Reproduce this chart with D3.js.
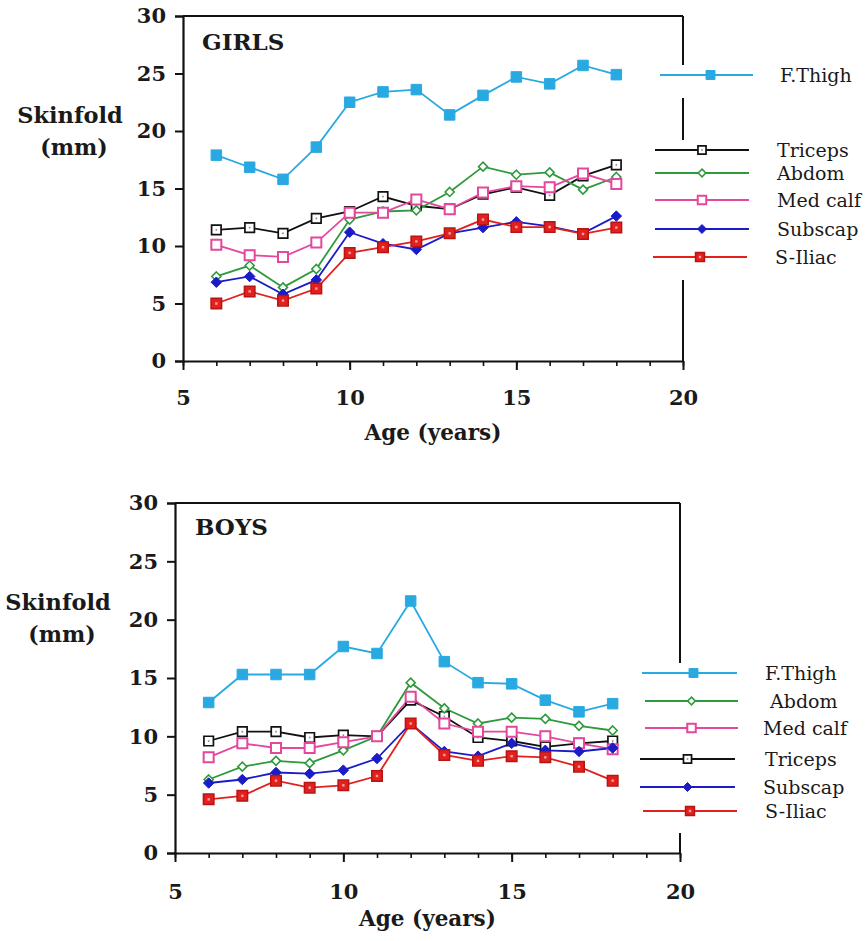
<!DOCTYPE html>
<html>
<head>
<meta charset="utf-8">
<script src="https://cdnjs.cloudflare.com/ajax/libs/d3/7.8.5/d3.min.js"></script>
<style>
  html, body { margin: 0; padding: 0; background: #fff; }
  svg { display: block; }
  text { font-family: "DejaVu Serif", "Liberation Serif", serif; fill: #1a1a1a; }
</style>
</head>
<body>
<svg id="chart" width="867" height="941"></svg>
<script>
// ---------- DATA ----------
const ages = [6, 7, 8, 9, 10, 11, 12, 13, 14, 15, 16, 17, 18];
const xTicks = [5, 10, 15, 20];
const yTicks = [0, 5, 10, 15, 20, 25, 30];

// Girls
const girlsFThigh  = [17.9, 16.85, 15.8, 18.6, 22.5, 23.4, 23.6, 21.4, 23.1, 24.7, 24.1, 25.7, 24.9];
const girlsTriceps = [11.4, 11.6, 11.1, 12.4, 13.0, 14.3, 13.5, 13.2, 14.5, 15.1, 14.4, 16.1, 17.05];
const girlsAbdom   = [7.35, 8.3, 6.4, 8.0, 12.3, 13.0, 13.1, 14.7, 16.9, 16.2, 16.4, 14.9, 16.0];
const girlsMedCalf = [10.1, 9.2, 9.05, 10.3, 12.9, 12.9, 14.05, 13.2, 14.65, 15.2, 15.1, 16.3, 15.4];
const girlsSubscap = [6.85, 7.35, 5.8, 7.05, 11.2, 10.2, 9.7, 11.1, 11.6, 12.1, 11.7, 11.1, 12.6];
const girlsSIliac  = [5.0, 6.05, 5.25, 6.3, 9.4, 9.9, 10.4, 11.1, 12.3, 11.65, 11.65, 11.05, 11.6];

// Boys
const boysFThigh  = [12.9, 15.3, 15.3, 15.3, 17.7, 17.1, 21.6, 16.4, 14.6, 14.5, 13.1, 12.1, 12.8];
const boysTriceps = [9.6, 10.4, 10.4, 9.9, 10.1, 10.0, 13.1, 11.7, 9.9, 9.6, 9.1, 9.4, 9.6];
const boysAbdom   = [6.3, 7.4, 7.9, 7.7, 8.8, 10.0, 14.6, 12.4, 11.1, 11.6, 11.5, 10.9, 10.5];
const boysMedCalf = [8.2, 9.4, 9.0, 9.0, 9.5, 10.0, 13.4, 11.1, 10.4, 10.4, 10.0, 9.4, 8.9];
const boysSubscap = [6.0, 6.3, 6.9, 6.8, 7.1, 8.1, 11.1, 8.7, 8.3, 9.4, 8.8, 8.7, 9.0];
const boysSIliac  = [4.6, 4.9, 6.2, 5.6, 5.8, 6.6, 11.1, 8.4, 7.9, 8.3, 8.2, 7.4, 6.2];

const girlsLegendOrder = ["F.Thigh", "Triceps", "Abdom", "Med calf", "Subscap", "S-Iliac"];
const boysLegendOrder  = ["F.Thigh", "Abdom", "Med calf", "Triceps", "Subscap", "S-Iliac"];

// ---------- STYLES ----------
const styles = {
  "F.Thigh":  { color: "#29a9e1", shape: "square",  fill: "#29a9e1", size: 10.5, stroke: 1 },
  "Triceps":  { color: "#111111", shape: "square",  fill: "#ffffff", size: 9.5, stroke: 1.7 },
  "Abdom":    { color: "#2e9a3c", shape: "diamond", fill: "#ffffff", size: 9,  stroke: 1.6 },
  "Med calf": { color: "#e4479b", shape: "square",  fill: "#ffffff", size: 10, stroke: 2 },
  "Subscap":  { color: "#1b1bc8", shape: "diamond", fill: "#1b1bc8", size: 10.5, stroke: 1 },
  "S-Iliac":  { color: "#e2201e", shape: "square",  fill: "#e2201e", size: 10.5, stroke: 1.5, dark: "#b81414" }
};

const svg = d3.select("#chart");

function markerPath(shape, s) {
  const h = s / 2;
  if (shape === "square") return `M${-h},${-h}H${h}V${h}H${-h}Z`;
  return `M0,${-h}L${h},0L0,${h}L${-h},0Z`;
}

function drawMarker(g, name, x, y, scale) {
  const st = styles[name];
  const s = st.size * (scale || 1);
  g.append("path")
    .attr("transform", `translate(${x},${y})`)
    .attr("d", markerPath(st.shape, s))
    .attr("fill", st.fill)
    .attr("stroke", st.dark || st.color)
    .attr("stroke-width", st.stroke);
  if (name === "S-Iliac") {
    g.append("rect").attr("x", x - 1.2).attr("y", y - 1.2).attr("width", 2.4).attr("height", 2.4)
      .attr("fill", "#f7a0a0");
  }
  if (name === "Triceps") {
    g.append("rect").attr("x", x - 0.8).attr("y", y - 0.8).attr("width", 1.6).attr("height", 1.6)
      .attr("fill", "#888");
  }
}

function drawPanel(cfg) {
  const x = d3.scaleLinear().domain([5, 20]).range([cfg.left, cfg.right]);
  const y = d3.scaleLinear().domain([0, 30]).range([cfg.bottom, cfg.top]);
  const g = svg.append("g");

  // top border
  g.append("line").attr("x1", cfg.left).attr("x2", cfg.right).attr("y1", cfg.top).attr("y2", cfg.top)
    .attr("stroke", "#111").attr("stroke-width", 2);
  // right border segments (gaps for legend)
  cfg.rightSegs.forEach(([a, b]) => {
    g.append("line").attr("x1", cfg.right).attr("x2", cfg.right).attr("y1", a).attr("y2", b)
      .attr("stroke", "#111").attr("stroke-width", 2);
  });

  // y axis
  const yAxis = g.append("g").attr("transform", `translate(${cfg.left},0)`)
    .call(d3.axisLeft(y).tickValues(yTicks).tickSize(8).tickPadding(9).tickFormat(d3.format("d")));
  yAxis.select(".domain").attr("stroke", "#111").attr("stroke-width", 2.2);
  yAxis.selectAll(".tick line").attr("stroke", "#111").attr("stroke-width", 2);
  yAxis.selectAll("text").attr("font-size", 21).attr("font-weight", "bold").attr("fill", "#1a1a1a")
    .attr("font-family", "DejaVu Serif, serif");

  // x axis minor ticks
  const xMinor = g.append("g").attr("transform", `translate(0,${cfg.bottom})`)
    .call(d3.axisBottom(x).tickValues(d3.range(5, 21)).tickSize(5).tickFormat(""));
  xMinor.select(".domain").remove();
  xMinor.selectAll(".tick line").attr("stroke", "#111").attr("stroke-width", 1.6);

  // x axis major
  const xAxis = g.append("g").attr("transform", `translate(0,${cfg.bottom})`)
    .call(d3.axisBottom(x).tickValues(xTicks).tickSize(9).tickSizeOuter(0).tickPadding(cfg.xPad).tickFormat(d3.format("d")));
  xAxis.select(".domain").attr("stroke", "#111").attr("stroke-width", 2.2);
  xAxis.selectAll(".tick line").attr("stroke", "#111").attr("stroke-width", 2);
  xAxis.selectAll("text").attr("font-size", 21).attr("font-weight", "bold").attr("fill", "#1a1a1a")
    .attr("font-family", "DejaVu Serif, serif");

  // series lines
  const line = d3.line().x((d, i) => x(ages[i])).y(d => y(d));
  const drawOrder = ["F.Thigh", "Triceps", "Abdom", "Med calf", "Subscap", "S-Iliac"];
  drawOrder.forEach(name => {
    g.append("path").datum(cfg.series[name]).attr("d", line)
      .attr("fill", "none").attr("stroke", styles[name].color).attr("stroke-width", 1.8);
  });
  drawOrder.forEach(name => {
    const mg = g.append("g");
    cfg.series[name].forEach((v, i) => drawMarker(mg, name, x(ages[i]), y(v), 1));
  });

  // panel label
  g.append("text").attr("x", cfg.labelX).attr("y", cfg.labelY).text(cfg.label)
    .attr("font-size", 23).attr("font-weight", "bold");

  // axis titles
  g.append("text").attr("x", cfg.ytX).attr("y", cfg.ytY).attr("text-anchor", "middle")
    .attr("font-size", 22.5).attr("font-weight", "bold").text("Skinfold");
  g.append("text").attr("x", cfg.ytX + 4).attr("y", cfg.ytY + 32).attr("text-anchor", "middle")
    .attr("font-size", 22).attr("font-weight", "bold").text("(mm)");
  g.append("text").attr("x", (cfg.left + cfg.right) / 2).attr("y", cfg.xtY).attr("text-anchor", "middle")
    .attr("font-size", 21.5).attr("font-weight", "bold").text("Age (years)");

  // legend
  cfg.legend.forEach((name, i) => {
    const ly = cfg.legendY[i];
    const lx = cfg.legendX[i];
    const lg = g.append("g");
    lg.append("line").attr("x1", lx[0]).attr("x2", lx[1]).attr("y1", ly).attr("y2", ly)
      .attr("stroke", styles[name].color).attr("stroke-width", 1.8);
    drawMarker(lg, name, (lx[0] + lx[1]) / 2 + (name === "F.Thigh" ? 4 : 0), ly, 0.85);
    lg.append("text").attr("x", cfg.legendTextX[i]).attr("y", ly + 7).attr("font-size", 19)
      .text(name);
  });
}

drawPanel({
  left: 183, right: 683, top: 16, bottom: 361,
  rightSegs: [[16, 65], [98, 140], [280, 361]],
  xPad: 20,
  label: "GIRLS", labelX: 202, labelY: 50,
  ytX: 70, ytY: 123, xtY: 440,
  series: { "F.Thigh": girlsFThigh, "Triceps": girlsTriceps, "Abdom": girlsAbdom,
            "Med calf": girlsMedCalf, "Subscap": girlsSubscap, "S-Iliac": girlsSIliac },
  legend: girlsLegendOrder,
  legendY: [75, 150, 173, 200, 229, 257],
  legendX: [[660, 753], [655, 749], [655, 749], [655, 749], [655, 749], [653, 747]],
  legendTextX: [780, 777, 777, 777, 777, 775]
});

drawPanel({
  left: 175, right: 680, top: 503, bottom: 853,
  rightSegs: [[503, 663], [833, 853]],
  xPad: 22,
  label: "BOYS", labelX: 195, labelY: 535,
  ytX: 58, ytY: 610, xtY: 926,
  series: { "F.Thigh": boysFThigh, "Triceps": boysTriceps, "Abdom": boysAbdom,
            "Med calf": boysMedCalf, "Subscap": boysSubscap, "S-Iliac": boysSIliac },
  legend: boysLegendOrder,
  legendY: [673, 701, 728, 759, 787, 811],
  legendX: [[642, 737], [645, 738], [645, 738], [640, 735], [640, 735], [643, 737]],
  legendTextX: [765, 770, 763, 765, 763, 765]
});
</script>
</body>
</html>
